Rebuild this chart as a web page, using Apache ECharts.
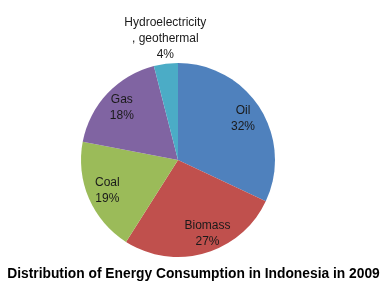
<!DOCTYPE html>
<html><head><meta charset="utf-8">
<script src="https://cdn.jsdelivr.net/npm/echarts@6/dist/echarts.min.js"></script>
<style>html,body{margin:0;padding:0;background:#fff}#c{width:387px;height:290px}</style>
</head><body><div id="c"></div>
<script>
const categories = ["Oil", "Biomass", "Coal", "Gas", "Hydroelectricity, geothermal"];
const values = [32, 27, 19, 18, 4];
const colors = ["#4F81BD", "#C0504D", "#9BBB59", "#8064A2", "#4BACC6"];
const title = "Distribution of Energy Consumption in Indonesia in 2009";

const labelOffsets = [[0, 0], [8, 0], [0, 0], [0, 0], [-3, -45]];

const chart = echarts.init(document.getElementById('c'), null, {renderer: 'canvas'});
const font = 'Liberation Sans';
chart.setOption({
  animation: false,
  title: {
    text: title, left: 'center', top: 262,
    textStyle: {fontFamily: font, fontSize: 13.8, fontWeight: 'bold', color: '#000'}
  },
  series: [
    {
      type: 'pie', center: [178, 160], radius: [0, 97], startAngle: 90, clockwise: true,
      silent: true, label: {show: false}, labelLine: {show: false},
      data: categories.map((c, i) => ({name: c, value: values[i], itemStyle: {color: colors[i]}}))
    },
    {
      type: 'pie', center: [178, 160], radius: [0, 148], startAngle: 90, clockwise: true,
      silent: true, itemStyle: {color: 'rgba(0,0,0,0)'},
      labelLine: {show: false},
      label: {
        show: true, position: 'inside', fontFamily: font, fontSize: 12, lineHeight: 16, color: '#1a1a1a',
        formatter: p => p.name.replace(', ', '\n, ') + '\n' + p.percent + '%'
      },
      percentPrecision: 0,
      data: categories.map((c, i) => ({name: c, value: values[i], label: {offset: labelOffsets[i]}}))
    }
  ]
});
</script></body></html>
